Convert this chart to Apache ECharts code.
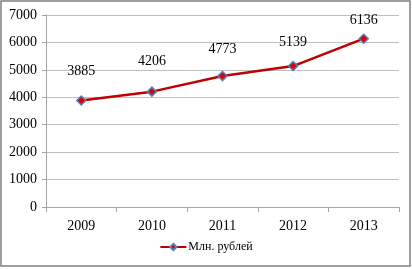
<!DOCTYPE html>
<html><head><meta charset="utf-8">
<script src="https://cdn.jsdelivr.net/npm/echarts@6/dist/echarts.min.js"></script>
<style>html,body{margin:0;padding:0;background:#fff}#c{width:412px;height:269px}</style>
</head><body><div id="c"></div>
<script>
const years = ['2009','2010','2011','2012','2013'];
const values = [3885, 4206, 4773, 5139, 6136];
const seriesName = 'Млн. рублей';
const labelLift = [12, 13, 10, 6, 1];

const chart = echarts.init(document.getElementById('c'), null, {renderer: 'canvas'});
const font = '"Liberation Serif","Times New Roman",serif';
chart.setOption({
  animation: false,
  grid: {left: 46, right: 13, top: 15, bottom: 62},
  graphic: [{type: 'rect', shape: {x: 1, y: 1, width: 409, height: 265},
    style: {fill: 'none', stroke: '#7f7f7f', lineWidth: 1.5}, silent: true}],
  legend: {bottom: 11, left: 'center', itemWidth: 26, itemHeight: 8, itemGap: 2,
    textStyle: {fontFamily: font, fontSize: 12, color: '#000', padding: [0, 0, 0, -3]},
    data: [seriesName]},
  xAxis: {type: 'category', data: years, boundaryGap: true,
    axisLine: {lineStyle: {color: '#a6a6a6'}},
    axisTick: {show: true, length: 5, lineStyle: {color: '#a6a6a6'}},
    axisLabel: {fontFamily: font, fontSize: 14, color: '#000', margin: 12}},
  yAxis: {type: 'value', min: 0, max: 7000, interval: 1000,
    axisLine: {show: true, lineStyle: {color: '#a6a6a6'}},
    axisTick: {show: true, length: 4, lineStyle: {color: '#a6a6a6'}},
    splitLine: {lineStyle: {color: '#bfbfbf'}},
    axisLabel: {fontFamily: font, fontSize: 14, color: '#000', margin: 9,
      formatter: v => String(v)}},
  series: [{
    name: seriesName, type: 'line',
    data: values.map((v, i) => ({value: v, label: {offset: [0, -labelLift[i]]}})),
    symbol: 'diamond', symbolSize: 9,
    lineStyle: {color: '#c00000', width: 2.5},
    itemStyle: {color: '#e00000', borderColor: '#4f81bd', borderWidth: 1.5},
    label: {show: true, position: 'top', fontFamily: font, fontSize: 14, color: '#000',
      formatter: p => String(p.value)}
  }]
});
</script></body></html>
